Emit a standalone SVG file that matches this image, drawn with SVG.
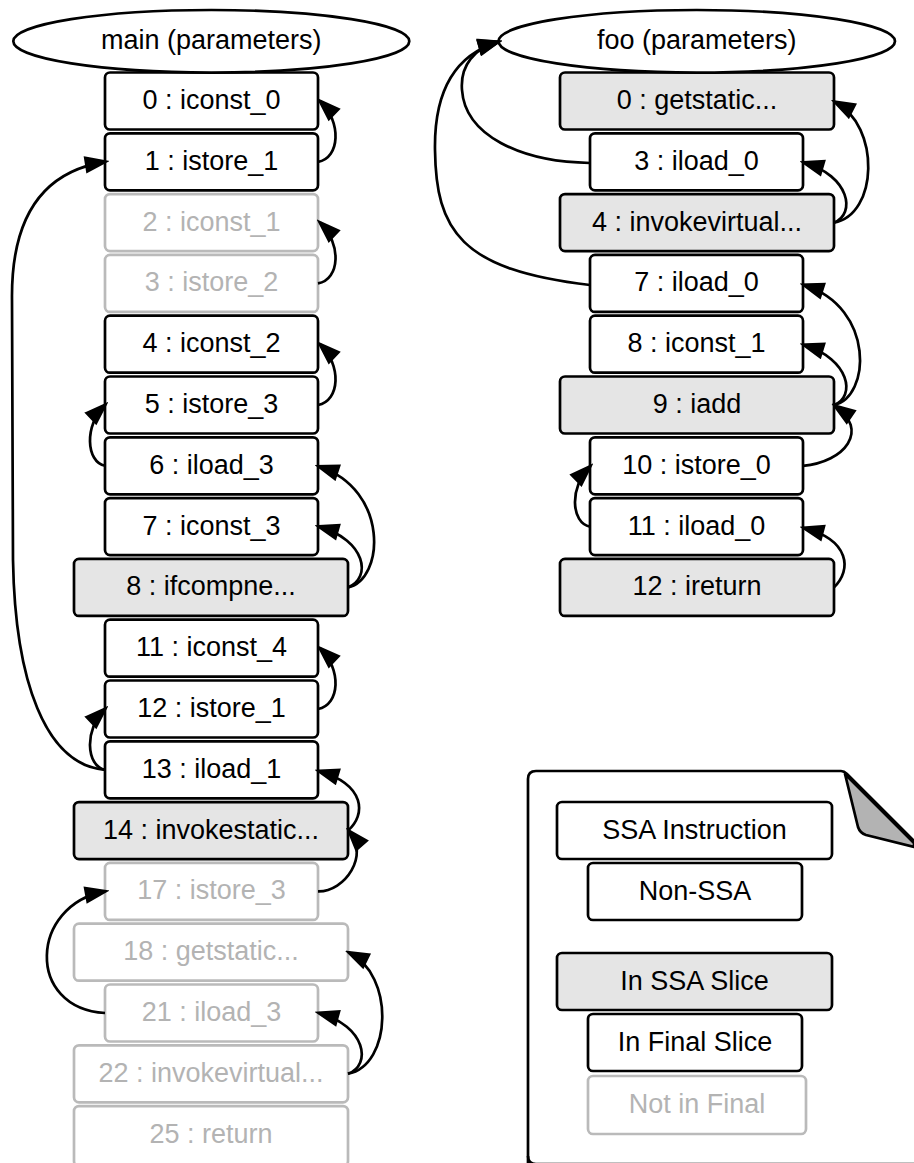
<svg xmlns="http://www.w3.org/2000/svg" width="914" height="1163" viewBox="0 0 914 1163">
<style>
text{font-family:"Liberation Sans",Arial,sans-serif;font-size:27px;text-anchor:middle;fill:#000}
.n rect{fill:#fff;stroke:#000;stroke-width:2.7}
.n.s rect{fill:#e5e5e5}
.n.g rect{stroke:#bababa}
.n.g text{fill:#b3b3b3}
.ell{fill:#fff;stroke:#000;stroke-width:2.7}
#edges path{fill:none;stroke:#000;stroke-width:2.7;marker-end:url(#ah)}
</style>
<defs>
<marker id="ah" viewBox="-2 -2 25 18" refX="19" refY="7" markerWidth="25" markerHeight="18" markerUnits="userSpaceOnUse" orient="auto"><path d="M0,0 L20,7 L0,14 z" fill="#000" stroke="#000" stroke-width="2.5" stroke-linejoin="miter"/></marker>
</defs>
<rect width="914" height="1163" fill="#fff"/>

<!-- main column -->
<g id="m0" class="n"><rect x="105" y="72.5" width="213" height="57" rx="5"/><text x="211.5" y="109">0 : iconst_0</text></g>
<g id="mainparam"><ellipse class="ell" cx="211.3" cy="41.3" rx="198" ry="31.3"/><text x="211.3" y="48.5">main (parameters)</text></g>
<g id="m1" class="n"><rect x="105" y="133.3" width="213" height="57" rx="5"/><text x="211.5" y="169.8">1 : istore_1</text></g>
<g id="m2" class="n g"><rect x="105" y="194.1" width="213" height="57" rx="5"/><text x="211.5" y="230.6">2 : iconst_1</text></g>
<g id="m3" class="n g"><rect x="105" y="254.9" width="213" height="57" rx="5"/><text x="211.5" y="291.4">3 : istore_2</text></g>
<g id="m4" class="n"><rect x="105" y="315.7" width="213" height="57" rx="5"/><text x="211.5" y="352.2">4 : iconst_2</text></g>
<g id="m5" class="n"><rect x="105" y="376.5" width="213" height="57" rx="5"/><text x="211.5" y="413">5 : istore_3</text></g>
<g id="m6" class="n"><rect x="105" y="437.3" width="213" height="57" rx="5"/><text x="211.5" y="473.8">6 : iload_3</text></g>
<g id="m7" class="n"><rect x="105" y="498.1" width="213" height="57" rx="5"/><text x="211.5" y="534.6">7 : iconst_3</text></g>
<g id="m8" class="n s"><rect x="74" y="558.9" width="274" height="57" rx="5"/><text x="211" y="595.4">8 : ifcompne...</text></g>
<g id="m11" class="n"><rect x="105" y="619.7" width="213" height="57" rx="5"/><text x="211.5" y="656.2">11 : iconst_4</text></g>
<g id="m12" class="n"><rect x="105" y="680.5" width="213" height="57" rx="5"/><text x="211.5" y="717">12 : istore_1</text></g>
<g id="m13" class="n"><rect x="105" y="741.3" width="213" height="57" rx="5"/><text x="211.5" y="777.8">13 : iload_1</text></g>
<g id="m14" class="n s"><rect x="74" y="802.1" width="274" height="57" rx="5"/><text x="211" y="838.6">14 : invokestatic...</text></g>
<g id="m17" class="n g"><rect x="105" y="862.9" width="213" height="57" rx="5"/><text x="211.5" y="899.4">17 : istore_3</text></g>
<g id="m18" class="n g"><rect x="74" y="923.7" width="274" height="57" rx="5"/><text x="211" y="960.2">18 : getstatic...</text></g>
<g id="m21" class="n g"><rect x="105" y="984.5" width="213" height="57" rx="5"/><text x="211.5" y="1021">21 : iload_3</text></g>
<g id="m22" class="n g"><rect x="74" y="1045.3" width="274" height="57" rx="5"/><text x="211" y="1081.8">22 : invokevirtual...</text></g>
<g id="m25" class="n g"><rect x="74" y="1106.1" width="274" height="60" rx="5"/><text x="211" y="1142.6">25 : return</text></g>

<!-- foo column -->
<g id="f0" class="n s"><rect x="560" y="72.5" width="274" height="57" rx="5"/><text x="697" y="109">0 : getstatic...</text></g>
<g id="fooparam"><ellipse class="ell" cx="696.7" cy="41.3" rx="198.3" ry="31.3"/><text x="696.7" y="48.5">foo (parameters)</text></g>
<g id="f3" class="n"><rect x="590" y="133.3" width="213" height="57" rx="5"/><text x="696.5" y="169.8">3 : iload_0</text></g>
<g id="f4" class="n s"><rect x="560" y="194.1" width="274" height="57" rx="5"/><text x="697" y="230.6">4 : invokevirtual...</text></g>
<g id="f7" class="n"><rect x="590" y="254.9" width="213" height="57" rx="5"/><text x="696.5" y="291.4">7 : iload_0</text></g>
<g id="f8" class="n"><rect x="590" y="315.7" width="213" height="57" rx="5"/><text x="696.5" y="352.2">8 : iconst_1</text></g>
<g id="f9" class="n s"><rect x="560" y="376.5" width="274" height="57" rx="5"/><text x="697" y="413">9 : iadd</text></g>
<g id="f10" class="n"><rect x="590" y="437.3" width="213" height="57" rx="5"/><text x="696.5" y="473.8">10 : istore_0</text></g>
<g id="f11" class="n"><rect x="590" y="498.1" width="213" height="57" rx="5"/><text x="696.5" y="534.6">11 : iload_0</text></g>
<g id="f12" class="n s"><rect x="560" y="558.9" width="274" height="57" rx="5"/><text x="697" y="595.4">12 : ireturn</text></g>

<!-- legend -->
<g id="legend">
<path d="M528,1170 L528,779 Q528,771 536,771 L841,771 Q844,771 847,774 L914,841" fill="#fff" stroke="#000" stroke-width="2.7"/>
<path d="M845,774 L858,827 Q860,833 866,835 L914,847 L914,843 Z" fill="#b3b3b3" stroke="#000" stroke-width="2.7" stroke-linejoin="round"/>
<path d="M528,1156 Q528,1164 536,1164 L914,1164" fill="none" stroke="#000" stroke-width="2.7"/>
</g>
<g id="lg1" class="n"><rect x="557" y="802" width="275" height="57" rx="5"/><text x="694.5" y="838.5">SSA Instruction</text></g>
<g id="lg2" class="n"><rect x="588" y="863" width="214" height="57" rx="5"/><text x="695" y="899.5">Non-SSA</text></g>
<g id="lg3" class="n s"><rect x="557" y="953" width="275" height="57" rx="5"/><text x="694.5" y="989.5">In SSA Slice</text></g>
<g id="lg4" class="n"><rect x="588" y="1014" width="214" height="57" rx="5"/><text x="695" y="1050.5">In Final Slice</text></g>
<g id="lg5" class="n g"><rect x="588" y="1076" width="218" height="58" rx="5"/><text x="697" y="1112.5">Not in Final</text></g>

<g id="edges">
<path d="M318,161.8 C340,158 342,122 320,101"/>
<path d="M318,283.4 C340,279.6 342,243.6 320,222.6"/>
<path d="M318,405 C340,401 342,365 320,344.2"/>
<path d="M318,709 C340,705 342,669 320,648.2"/>
<path d="M105,465.8 C86,462 84,425 105,405"/>
<path d="M105,769.8 C86,766 84,729 105,709"/>
<path d="M348,587.4 C372,578 366,540 319,526.6"/>
<path d="M348,587.4 C384,580 390,490 319,466.5"/>
<path d="M348,830.6 C366,815 366,785 319,771"/>
<path d="M318,891.4 C345,892 370,855 349,831"/>
<path d="M348,1073.8 C372,1065 366,1026 319,1013"/>
<path d="M348,1073.8 C392,1065 395,975 349,952.5"/>
<path d="M105,769.8 C45,765 15,680 13,560 L12,300 C11,220 40,172 105,161.8"/>
<path d="M105,1013 C25,1008 30,905 105,891.4"/>
<path d="M834,222.6 C856,214 850,176 804,162.5"/>
<path d="M834,222.6 C878,215 881,126 835,102"/>
<path d="M834,405 C856,397 850,359 804,345"/>
<path d="M834,405 C870,398 876,308 804,285"/>
<path d="M803,465.8 C845,462 870,430 835,406"/>
<path d="M834,587.4 C852,570 850,540 804,528"/>
<path d="M590,526.6 C571,523 569,487 590,466.5"/>
<path d="M590,163 C520,162 465,135 462,90 C460,65 475,48 498,42"/>
<path d="M590,285 C460,270 436,230 435,150 C434,90 455,55 498,42"/>
</g>
</svg>
